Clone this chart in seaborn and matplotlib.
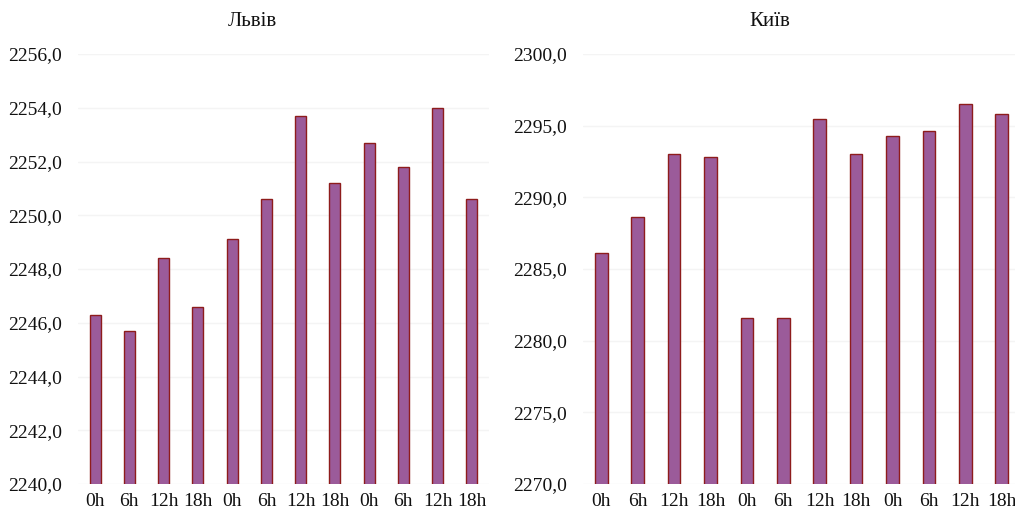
import numpy as np
import pandas as pd
import matplotlib
matplotlib.use("Agg")
import matplotlib.pyplot as plt
from matplotlib.ticker import FuncFormatter, MultipleLocator
import seaborn as sns

# Six-hourly readings over three days for two cities
hours = ["0h", "6h", "12h", "18h"] * 3
lviv_values = [2246.3, 2245.7, 2248.4, 2246.6, 2249.1, 2250.6,
               2253.7, 2251.2, 2252.7, 2251.8, 2254.0, 2250.6]
kyiv_values = [2286.1, 2288.6, 2293.0, 2292.8, 2281.6, 2281.6,
               2295.5, 2293.0, 2294.3, 2294.6, 2296.5, 2295.8]

titles = ["Львів", "Київ"]
y_ranges = [(2240, 2256, 2), (2270, 2300, 5)]

BAR_FACE = "#9b5b9a"
BAR_EDGE = "#8e1c1c"
GRID = "#f4f4f4"

sns.set_theme(style="white")
plt.rcParams["font.family"] = ["Liberation Serif", "DejaVu Serif"]

W, H = 1015, 514
fig = plt.figure(figsize=(W / 100, H / 100), dpi=100)

# axes boxes in pixels: left, right, bottom, top
boxes = [(78, 489, 484, 54), (583, 1020, 484, 54)]
bar_widths = [0.32, 0.35]
title_x = [252, 770]

comma_fmt = FuncFormatter(lambda v, _: f"{v:.1f}".replace(".", ","))

for i, (vals, title, (lo, hi, step), box) in enumerate(
        zip([lviv_values, kyiv_values], titles, y_ranges, boxes)):
    l, r, b, t = box
    ax = fig.add_axes([l / W, (H - b) / H, (r - l) / W, (b - t) / H])
    df = pd.DataFrame({"slot": np.arange(len(vals)), "value": vals})
    sns.barplot(data=df, x="slot", y="value", ax=ax, width=bar_widths[i],
                color=BAR_FACE, saturation=1, edgecolor=BAR_EDGE,
                linewidth=1.0, zorder=3)
    ax.set_ylim(lo, hi)
    ax.yaxis.set_major_locator(MultipleLocator(step))
    ax.yaxis.set_major_formatter(comma_fmt)
    ax.set_xticks(np.arange(len(vals)))
    ax.set_xticklabels(hours)
    ax.set_xlabel("")
    ax.set_ylabel("")
    ax.grid(axis="y", color=GRID, linewidth=1.0, zorder=0)
    ax.set_axisbelow(True)
    for s in ax.spines.values():
        s.set_visible(False)
    ax.tick_params(axis="y", length=0, pad=11.5, labelsize=14, colors="#111111")
    ax.tick_params(axis="x", length=0, pad=6.5, labelsize=14, colors="#111111")
    fig.text(title_x[i] / W, 1 - 22 / H, title, ha="center", va="center",
             fontsize=15, color="#111111")

fig.savefig("out.png", dpi=100)
